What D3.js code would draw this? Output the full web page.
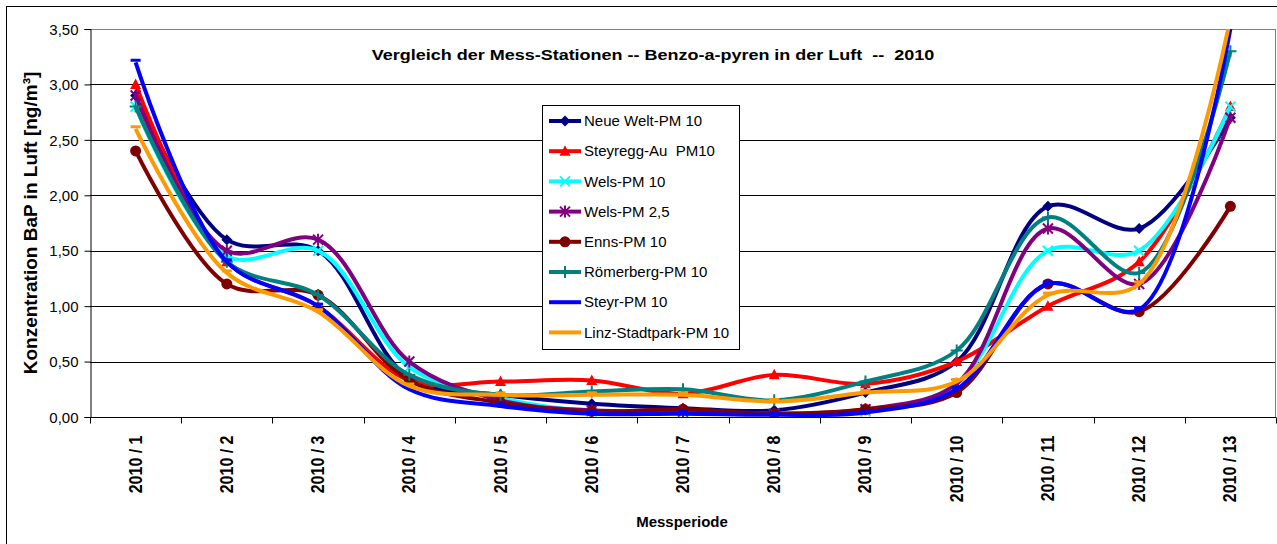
<!DOCTYPE html>
<html>
<head>
<meta charset="utf-8">
<script src="https://cdn.jsdelivr.net/npm/d3@7"></script>
<style>
body { margin: 0; background: #fff; }
text { font-family: Arial, "Liberation Sans", sans-serif; fill: #000; }
</style>
</head>
<body>
<script>
// Messperioden
var periods = ["2010 / 1", "2010 / 2", "2010 / 3", "2010 / 4", "2010 / 5", "2010 / 6", "2010 / 7",
               "2010 / 8", "2010 / 9", "2010 / 10", "2010 / 11", "2010 / 12", "2010 / 13"];

// BaP values [ng/m3] per station
var neueWelt   = [2.9, 1.6, 1.5, 0.35, 0.2, 0.12, 0.08, 0.06, 0.22, 0.5, 1.9, 1.7, 2.7];
var steyregg   = [3.0, 1.4, 1.0, 0.33, 0.32, 0.33, 0.21, 0.38, 0.3, 0.5, 1.0, 1.4, 2.8];
var wels10     = [2.8, 1.45, 1.5, 0.45, 0.17, 0.05, 0.04, 0.03, 0.05, 0.3, 1.5, 1.5, 2.8];
var wels25     = [2.9, 1.5, 1.6, 0.5, 0.15, 0.06, 0.05, 0.03, 0.07, 0.3, 1.7, 1.2, 2.7];
var enns       = [2.4, 1.2, 1.1, 0.33, 0.13, 0.05, 0.07, 0.03, 0.07, 0.22, 1.2, 0.95, 1.9];
var roemerberg = [2.8, 1.4, 1.1, 0.38, 0.2, 0.23, 0.25, 0.15, 0.32, 0.6, 1.8, 1.3, 3.3];
var steyr      = [3.2, 1.4, 1.0, 0.25, 0.1, 0.03, 0.03, 0.02, 0.04, 0.25, 1.2, 0.97, 3.5];
var linz       = [2.6, 1.3, 0.95, 0.28, 0.2, 0.2, 0.2, 0.14, 0.22, 0.32, 1.1, 1.2, 3.6];

var seriesNames  = ["Neue Welt-PM 10", "Steyregg-Au  PM10", "Wels-PM 10", "Wels-PM 2,5",
                    "Enns-PM 10", "Römerberg-PM 10", "Steyr-PM 10", "Linz-Stadtpark-PM 10"];
var seriesValues = [neueWelt, steyregg, wels10, wels25, enns, roemerberg, steyr, linz];
var seriesColors = ["#000080", "#ff0000", "#00ffff", "#800080", "#800000", "#008080", "#0000ff", "#ff9900"];
var seriesMarkers = ["diamond", "triangle", "x", "star", "circle", "plus", "dash", "dash"];

var yTicks = [0, 0.5, 1, 1.5, 2, 2.5, 3, 3.5];

var margin = {top: 29, right: 1, bottom: 127, left: 90},
    width = 1277 - margin.left - margin.right,
    height = 544 - margin.top - margin.bottom;

var svgRoot = d3.select("body")
    .append("svg")
    .attr("width", 1277)
    .attr("height", 544);

// outer chart frame
svgRoot.append("rect")
    .attr("x", 6.5).attr("y", 6.5)
    .attr("width", 1300).attr("height", 600)
    .attr("fill", "none").attr("stroke", "#000");

var svg = svgRoot.append("g")
    .attr("transform", "translate(" + margin.left + "," + margin.top + ")");

var x = d3.scaleBand().domain(periods).range([0, width]);
var y = d3.scaleLinear().domain([0, 3.5]).range([height, 0]);

// gridlines
svg.append("g")
    .selectAll("line")
    .data(yTicks.slice(1))
    .enter().append("line")
    .attr("x1", 0).attr("x2", width)
    .attr("y1", function(d) { return Math.round(y(d)) + 0.5; })
    .attr("y2", function(d) { return Math.round(y(d)) + 0.5; })
    .attr("stroke", function(d) { return d === 3.5 ? "#808080" : "#000"; });

// plot area right border
svg.append("line")
    .attr("x1", width - 0.5).attr("x2", width - 0.5)
    .attr("y1", 0).attr("y2", height)
    .attr("stroke", "#808080");

// Y axis
var yAxis = svg.append("g")
    .attr("transform", "translate(0.5,0)")
    .call(d3.axisLeft(y).tickValues(yTicks).tickSize(6).tickPadding(6)
        .tickFormat(function(d) { return d3.format(".2f")(d).replace(".", ","); }));
yAxis.selectAll("text").style("font-size", "15px").attr("dy", "0.35em");
yAxis.select(".domain").attr("stroke", "#000");

// X axis: ticks at category boundaries
var xAxis = svg.append("g").attr("transform", "translate(0," + (height + 0.5) + ")");
xAxis.append("line").attr("x1", 0).attr("x2", width).attr("stroke", "#000");
xAxis.selectAll(".tk")
    .data(d3.range(periods.length + 1))
    .enter().append("line")
    .attr("x1", function(i) { return Math.round(i * x.bandwidth()) + 0.5; })
    .attr("x2", function(i) { return Math.round(i * x.bandwidth()) + 0.5; })
    .attr("y1", 0).attr("y2", 6)
    .attr("stroke", "#000");
xAxis.selectAll(".lbl")
    .data(periods)
    .enter().append("text")
    .attr("transform", function(d) {
        return "translate(" + (x(d) + x.bandwidth() / 2 + 6) + ",18) scale(1.12,1) rotate(-90)";
    })
    .attr("text-anchor", "end")
    .style("font-size", "16px")
    .style("font-weight", "bold")
    .text(function(d) { return d; });

// axis titles
svgRoot.append("text")
    .attr("transform", "translate(37,223) rotate(-90)")
    .attr("text-anchor", "middle")
    .style("font-size", "19px").style("font-weight", "bold")
    .text("Konzentration BaP in Luft [ng/m³]");
svgRoot.append("text")
    .attr("x", 682).attr("y", 527)
    .attr("text-anchor", "middle")
    .style("font-size", "15px").style("font-weight", "bold")
    .text("Messperiode");

// title
svgRoot.append("text")
    .attr("transform", "translate(653,60) scale(1.2,1)")
    .attr("text-anchor", "middle")
    .style("font-size", "15px").style("font-weight", "bold")
    .style("white-space", "pre")
    .text("Vergleich der Mess-Stationen -- Benzo-a-pyren in der Luft  --  2010");

svg.append("clipPath").attr("id", "plotclip")
    .append("rect").attr("x", 0).attr("y", 0).attr("width", width).attr("height", height);

var line = d3.line()
    .x(function(d, i) { return x(periods[i]) + x.bandwidth() / 2; })
    .y(function(d) { return y(d); })
    .curve(d3.curveCatmullRom.alpha(0.5));

function drawMarker(g, type, color) {
    if (type === "diamond") {
        g.append("path").attr("d", "M0,-5.5L5.5,0L0,5.5L-5.5,0Z").attr("fill", color);
    } else if (type === "triangle") {
        g.append("path").attr("d", "M0,-6L5.5,4.5L-5.5,4.5Z").attr("fill", color);
    } else if (type === "x") {
        g.append("path").attr("d", "M-5,-5L5,5M-5,5L5,-5").attr("stroke", color).attr("stroke-width", 2);
    } else if (type === "star") {
        g.append("path").attr("d", "M-5,-5L5,5M-5,5L5,-5M0,-6L0,6").attr("stroke", color).attr("stroke-width", 2);
    } else if (type === "circle") {
        g.append("circle").attr("r", 5.5).attr("fill", color);
    } else if (type === "plus") {
        g.append("path").attr("d", "M-6,0L6,0M0,-6L0,6").attr("stroke", color).attr("stroke-width", 2);
    } else if (type === "dash") {
        g.append("path").attr("d", "M-5,-2L5,-2").attr("stroke", color).attr("stroke-width", 3);
    }
}

// series
var plot = svg.append("g").attr("clip-path", "url(#plotclip)");
seriesValues.forEach(function(vals, s) {
    plot.append("path")
        .datum(vals)
        .attr("fill", "none")
        .attr("stroke", seriesColors[s])
        .attr("stroke-width", 4)
        .attr("stroke-linejoin", "round")
        .attr("d", line);
    vals.forEach(function(v, i) {
        var m = plot.append("g")
            .attr("transform", "translate(" + (x(periods[i]) + x.bandwidth() / 2) + "," + y(v) + ")");
        drawMarker(m, seriesMarkers[s], seriesColors[s]);
    });
});

// legend
var legend = svgRoot.append("g").attr("transform", "translate(542,105)");
legend.append("rect")
    .attr("x", 0.5).attr("y", 0.5)
    .attr("width", 197).attr("height", 244)
    .attr("fill", "#fff").attr("stroke", "#000");
seriesNames.forEach(function(name, s) {
    var row = legend.append("g").attr("transform", "translate(0," + (16 + s * 30.2) + ")");
    row.append("line")
        .attr("x1", 7).attr("x2", 39)
        .attr("stroke", seriesColors[s]).attr("stroke-width", 4);
    if (seriesMarkers[s] !== "dash") {
        drawMarker(row.append("g").attr("transform", "translate(23,0)"), seriesMarkers[s], seriesColors[s]);
    }
    row.append("text")
        .attr("x", 42).attr("y", 0).attr("dy", "0.35em")
        .style("font-size", "15px")
        .style("white-space", "pre")
        .text(name);
});
</script>
</body>
</html>
